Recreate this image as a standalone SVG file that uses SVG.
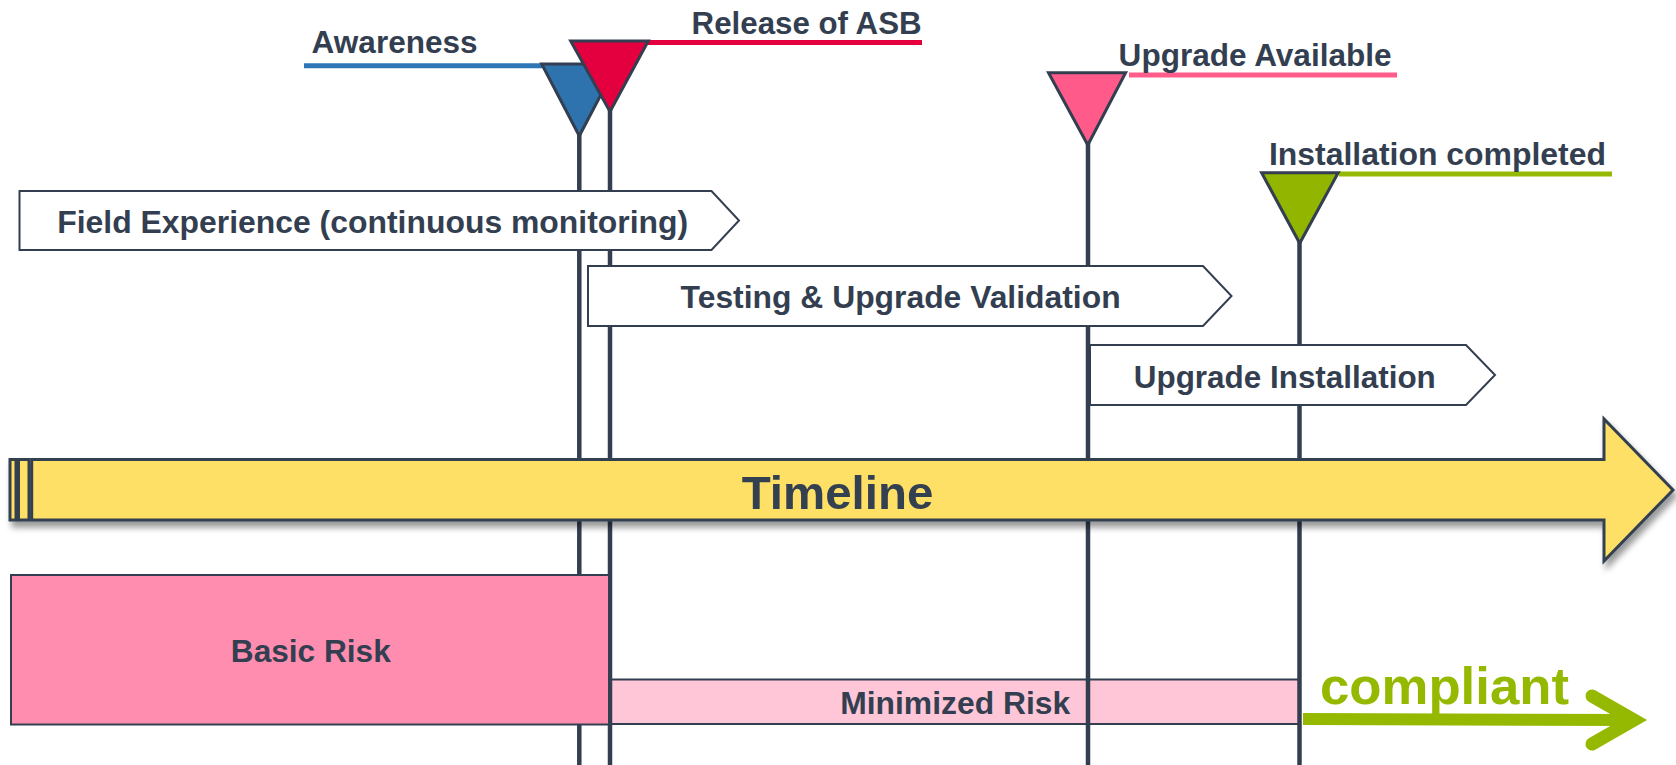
<svg xmlns="http://www.w3.org/2000/svg" width="1676" height="765" viewBox="0 0 1676 765">
  <defs>
    <style>
      .lbl { font-family: "Liberation Sans", Arial, sans-serif; font-weight: bold; fill: #333F50; }
      .box { fill: #FFFFFF; stroke: #333F50; stroke-width: 2; }
      .tri { stroke: #333F50; stroke-width: 3; stroke-linejoin: miter; }
      .stem { stroke: #333F50; stroke-width: 4.5; fill: none; }
      .flag { stroke-width: 5; fill: none; }
      .tl { fill: #FFE066; stroke: #333F50; stroke-width: 3; }
    </style>
    <filter id="shadow" x="-5%" y="-20%" width="110%" height="150%">
      <feDropShadow dx="3" dy="6" stdDeviation="3" flood-color="#000000" flood-opacity="0.4"/>
    </filter>
  </defs>

  <rect width="1676" height="765" fill="#FFFFFF"/>

  <!-- lower risk band sits under the milestone stems -->
  <g id="minimized-risk">
    <rect x="609" y="679.5" width="690.5" height="44.5" fill="#FFC6D7" stroke="#333F50" stroke-width="2"/>
    <text class="lbl" x="840.2" y="714" font-size="30.5" textLength="230" lengthAdjust="spacingAndGlyphs">Minimized Risk</text>
  </g>

  <!-- milestone stems and compliance arrow -->
  <g id="connectors">
    <line class="stem" x1="579.3" y1="134" x2="579.3" y2="765"/>
    <line class="stem" x1="610" y1="110" x2="610" y2="765"/>
    <line class="stem" x1="1088" y1="143" x2="1088" y2="765"/>
    <line class="stem" x1="1299.5" y1="241" x2="1299.5" y2="765"/>
    <g stroke="#94B900" fill="none">
      <line x1="1303" y1="719" x2="1636" y2="720" stroke-width="12"/>
      <polyline points="1592,696 1634,720 1592,744" stroke-width="13" stroke-linecap="round" stroke-linejoin="miter"/>
    </g>
  </g>

  <g id="basic-risk">
    <rect x="11" y="575" width="598" height="149.5" fill="#FF8DAF" stroke="#333F50" stroke-width="2"/>
    <text class="lbl" x="230.8" y="661.7" font-size="31" textLength="160" lengthAdjust="spacingAndGlyphs">Basic Risk</text>
  </g>

  <g id="field-experience">
    <path class="box" d="M19.5,191 H711.5 L739,220.5 L711.5,250 H19.5 Z"/>
    <text class="lbl" x="57.2" y="233.3" font-size="31.5" textLength="631" lengthAdjust="spacingAndGlyphs">Field Experience (continuous monitoring)</text>
  </g>

  <g id="testing-validation">
    <path class="box" d="M588,266 H1203 L1231.5,296 L1203,326 H588 Z"/>
    <text class="lbl" x="680.6" y="307.5" font-size="31.5" textLength="440" lengthAdjust="spacingAndGlyphs">Testing &amp; Upgrade Validation</text>
  </g>

  <g id="upgrade-installation">
    <path class="box" d="M1090,345 H1466 L1495,375 L1466,405 H1090 Z"/>
    <text class="lbl" x="1133.8" y="388.3" font-size="31.5" textLength="302" lengthAdjust="spacingAndGlyphs">Upgrade Installation</text>
  </g>

  <g id="timeline" filter="url(#shadow)">
    <rect class="tl" x="10" y="459.5" width="6" height="60.5"/>
    <rect class="tl" x="18.5" y="459.5" width="10.5" height="60.5"/>
    <polygon class="tl" points="31.7,459.5 1604,459.5 1604,419 1673,490 1604,561 1604,520 31.7,520"/>
    <text class="lbl" x="741.7" y="508.5" font-size="47" textLength="191.6" lengthAdjust="spacingAndGlyphs">Timeline</text>
  </g>

  <g id="awareness">
    <line class="flag" x1="304" y1="65.7" x2="542" y2="65.7" stroke="#2E75B6"/>
    <polygon class="tri" points="541.7,64 617,64 579.3,136" fill="#2E72AE"/>
    <text class="lbl" x="311.6" y="52.7" font-size="31.5" textLength="166" lengthAdjust="spacingAndGlyphs">Awareness</text>
  </g>

  <g id="release-asb">
    <line class="flag" x1="648" y1="42.5" x2="922" y2="42.5" stroke="#E4003F"/>
    <polygon class="tri" points="570.7,41 648.3,41 610,111.7" fill="#E4003F"/>
    <text class="lbl" x="691.6" y="34" font-size="31" textLength="230" lengthAdjust="spacingAndGlyphs">Release of ASB</text>
  </g>

  <g id="upgrade-available">
    <line class="flag" x1="1129" y1="75" x2="1397" y2="75" stroke="#FF5B8B"/>
    <polygon class="tri" points="1048.5,72.7 1125.6,72.7 1087.8,145" fill="#FF5A8A"/>
    <text class="lbl" x="1118.6" y="66" font-size="31" textLength="273" lengthAdjust="spacingAndGlyphs">Upgrade Available</text>
  </g>

  <g id="installation-completed">
    <line class="flag" x1="1339" y1="174" x2="1612" y2="174" stroke="#94B900"/>
    <polygon class="tri" points="1261.6,172.7 1338.2,172.7 1299.7,243.3" fill="#92B600"/>
    <text class="lbl" x="1269" y="165" font-size="31.5" textLength="337" lengthAdjust="spacingAndGlyphs">Installation completed</text>
  </g>

  <g id="compliant">
    <text x="1320" y="704" font-family="Liberation Sans, Arial, sans-serif" font-weight="bold" font-size="52.5" fill="#94B900" textLength="249" lengthAdjust="spacingAndGlyphs">compliant</text>
  </g>
</svg>
